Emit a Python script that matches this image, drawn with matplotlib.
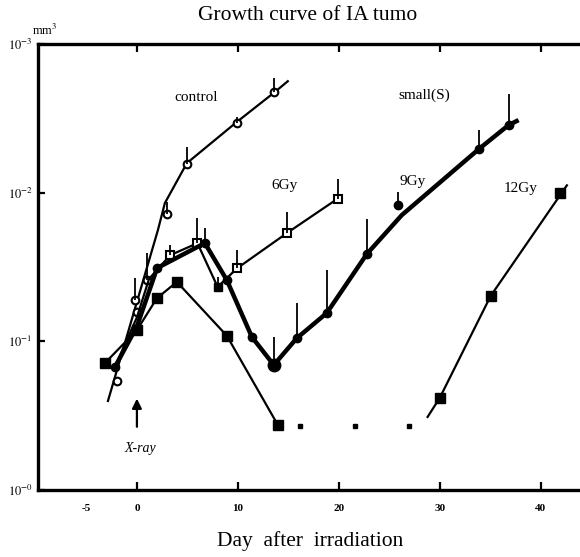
import matplotlib
matplotlib.use('Agg')
import matplotlib.pyplot as plt
import numpy as np

plt.rcParams['font.family'] = ['Liberation Serif', 'DejaVu Serif']
plt.rcParams['mathtext.fontset'] = 'stix'

# ---------------------------------------------------
# data (day, volume on the log axis)
# ---------------------------------------------------
ctrl_line_day = [-2.87, 2.08, 2.77, 4.95, 9.9, 13.66, 14.95]
ctrl_line_vol = [3.97, 56.0, 85.1, 158, 299, 475, 562]
ctrl_day = [-1.98, -0.2, 0.0, 1.0, 2.97, 4.95, 9.9, 13.56]
ctrl_vol = [5.41, 19.0, 15.7, 25.7, 71.8, 155.6, 293.8, 475.3]
ctrl_bar_day = [-0.2, 1.0, 2.97, 4.95, 9.9, 13.56]
ctrl_bar_lo = [19.0, 25.7, 71.8, 155.6, 293.8, 475.3]
ctrl_bar_hi = [26.7, 39.3, 86.5, 202.8, 322, 590]

gy6_line_day = [-2.2, 0.0, 1.2, 3.3, 6.0, 8.0, 9.9, 14.9, 19.9]
gy6_line_vol = [6.7, 14.5, 26.3, 38.0, 45.7, 23.2, 30.9, 53.7, 91.2]
gy6_day = [3.3, 6.0, 9.9, 14.9, 19.9]
gy6_vol = [38.0, 45.7, 30.9, 53.7, 91.2]
gy6_fill_day = [8.0]
gy6_fill_vol = [23.2]
gy6_bar_day = [3.3, 6.0, 8.0, 9.9, 14.9, 19.9]
gy6_bar_lo = [38.0, 45.7, 23.2, 30.9, 53.7, 91.2]
gy6_bar_hi = [44.5, 67.6, 27.0, 41.1, 74.1, 123]

gy9_line_day = [-2.18, 0.0, 2.0, 6.73, 8.91, 11.39, 13.56, 15.84, 18.81, 22.77, 26.24, 33.86, 36.83, 37.62]
gy9_line_vol = [6.71, 12.6, 31.1, 45.8, 25.8, 10.7, 6.93, 10.5, 15.5, 38.6, 70.6, 196, 285, 303]
gy9_day = [-2.18, 2.0, 6.73, 8.91, 11.39, 15.84, 18.81, 22.77, 25.84, 33.86, 36.83]
gy9_vol = [6.71, 31.1, 45.8, 25.8, 10.7, 10.5, 15.5, 38.6, 82.6, 196, 285]
gy9_min_day = [13.56]
gy9_min_vol = [6.93]
gy9_bar_day = [6.73, 13.56, 15.84, 18.81, 22.77, 25.84, 33.86, 36.83]
gy9_bar_lo = [45.8, 6.93, 10.5, 15.5, 38.6, 82.6, 196, 285]
gy9_bar_hi = [57.8, 10.7, 18.1, 30.1, 66.4, 101, 264, 460]

gy12_day = [-3.17, 0.0, 1.98, 3.96, 8.91, 13.96]
gy12_vol = [7.14, 11.9, 19.5, 25.1, 10.9, 2.74]
gy12_nd_day = [16.2, 21.6, 27.0]
gy12_nd_vol = [2.69, 2.69, 2.69]
gy12_re_line_day = [28.8, 30.0, 35.05, 42.6]
gy12_re_line_vol = [3.10, 4.16, 20.2, 112]
gy12_re_day = [30.0, 35.05, 41.88]
gy12_re_vol = [4.16, 20.2, 99.3]

xticks = [-5, 0, 10, 20, 30, 40]
yticks = [1, 10, 100, 1000]
ytick_labels = [r'$10^{-0}$', r'$10^{-1}$', r'$10^{-2}$', r'$10^{-3}$']

# ---------------------------------------------------
fig = plt.figure(figsize=(5.8, 5.57), dpi=100)
ax = fig.add_axes([38/580, 1 - 490/557, 1 - 38/580, (490 - 44)/557])
ax.set_yscale('log')
ax.set_xlim(-9.8, 43.9)
ax.set_ylim(1, 1000)

k = 'black'
# control
ax.plot(ctrl_line_day, ctrl_line_vol, '-', color=k, lw=1.6)
ax.plot(ctrl_day, ctrl_vol, 'o', mfc='white', mec=k, mew=1.5, ms=5.5, ls='none')
ax.vlines(ctrl_bar_day, ctrl_bar_lo, ctrl_bar_hi, color=k, lw=1.3)

# 6Gy
ax.plot(gy6_line_day, gy6_line_vol, '-', color=k, lw=1.6)
ax.plot(gy6_day, gy6_vol, 's', mfc='white', mec=k, mew=1.5, ms=5.5, ls='none')
ax.plot(gy6_fill_day, gy6_fill_vol, 's', color=k, ms=5.5, ls='none')
ax.vlines(gy6_bar_day, gy6_bar_lo, gy6_bar_hi, color=k, lw=1.3)

# 9Gy
ax.plot(gy9_line_day, gy9_line_vol, '-', color=k, lw=3.2)
ax.plot(gy9_day, gy9_vol, 'o', color=k, ms=6, ls='none')
ax.plot(gy9_min_day, gy9_min_vol, 'o', color=k, ms=9, ls='none')
ax.vlines(gy9_bar_day, gy9_bar_lo, gy9_bar_hi, color=k, lw=1.3)

# 12Gy
ax.plot(gy12_day, gy12_vol, 's-', color=k, lw=1.6, ms=7.5)
ax.plot(gy12_nd_day, gy12_nd_vol, 's', color=k, ms=3.5, ls='none')
ax.plot(gy12_re_line_day, gy12_re_line_vol, '-', color=k, lw=1.6)
ax.plot(gy12_re_day, gy12_re_vol, 's', color=k, ms=7, ls='none')

# labels of the curves
ax.text(5.9, 440, 'control', fontsize=11, ha='center', va='center')
ax.text(28.5, 453, 'small(S)', fontsize=11, ha='center', va='center')
ax.text(14.65, 112, '6Gy', fontsize=11, ha='center', va='center')
ax.text(27.3, 118, '9Gy', fontsize=11, ha='center', va='center')
ax.text(38.0, 107, '12Gy', fontsize=11, ha='center', va='center')

# X-ray arrow
ax.annotate('', xy=(0, 4.3), xytext=(0, 2.55),
            arrowprops=dict(arrowstyle='-|>', color=k, lw=1.6, mutation_scale=14))
ax.text(0.3, 1.89, 'X-ray', fontsize=10, style='italic', ha='center', va='center')

# axes styling
for s in ['left', 'top', 'bottom']:
    ax.spines[s].set_linewidth(2.4)
ax.spines['right'].set_visible(False)
ax.set_xticks(xticks)
ax.set_xticklabels([str(t) for t in xticks], fontsize=8, fontweight='bold')
ax.tick_params(axis='x', direction='in', length=6, width=1.6, top=True, pad=10)
ax.xaxis.get_major_ticks()[0].tick1line.set_visible(False)
ax.xaxis.get_major_ticks()[0].tick2line.set_visible(False)
ax.set_yticks(yticks)
ax.set_yticklabels(ytick_labels, fontsize=9)
ax.yaxis.set_minor_locator(matplotlib.ticker.NullLocator())
ax.tick_params(axis='y', direction='in', length=5, width=1.6, pad=4)

fig.text(308/580, 1 - 16/557, 'Growth curve of IA tumo', fontsize=15.5, ha='center', va='center')
fig.text(45/580, 1 - 30/557, r'mm$^3$', fontsize=9, ha='center', va='center')
fig.text(310/580, 1 - 541/557, 'Day  after  irradiation', fontsize=15.5, ha='center', va='center')

plt.savefig('out.png', dpi=100)
